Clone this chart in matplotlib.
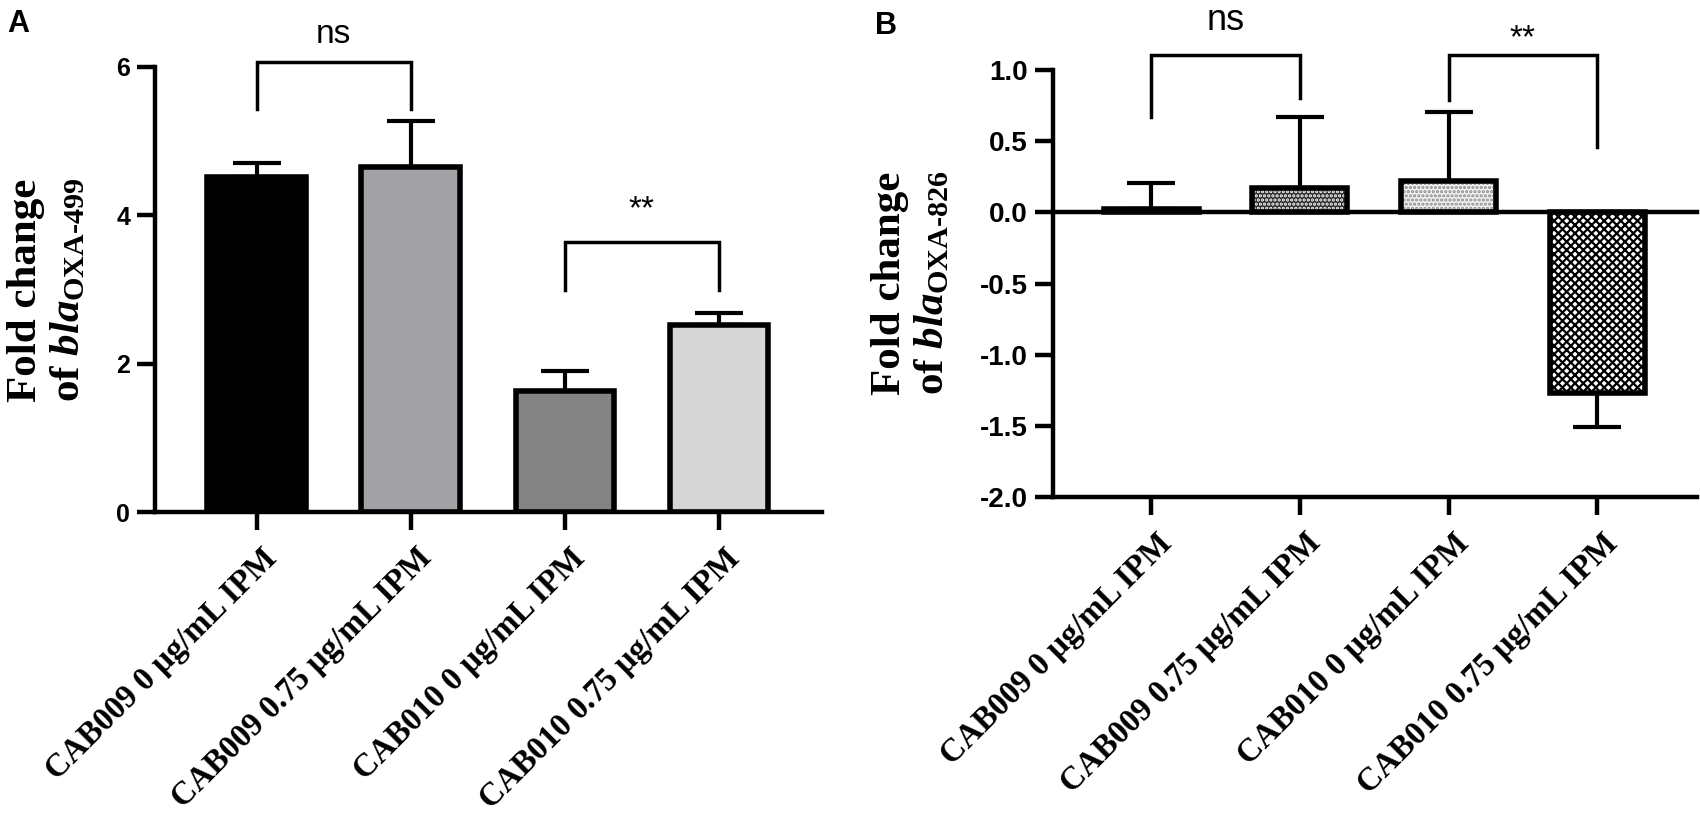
import matplotlib
matplotlib.use("Agg")
import matplotlib.pyplot as plt
import numpy as np

# ---------------- data ----------------
categories = ["CAB009 0 µg/mL IPM", "CAB009 0.75 µg/mL IPM",
              "CAB010 0 µg/mL IPM", "CAB010 0.75 µg/mL IPM"]
fold_a = [4.52, 4.65, 1.63, 2.52]
err_a = [0.19, 0.62, 0.27, 0.17]
fold_b = [0.023, 0.169, 0.22, -1.272]
err_b = [0.185, 0.498, 0.483, 0.239]
sig_labels_a = ["ns", "**"]
sig_labels_b = ["ns", "**"]
yticks_a = [0, 2, 4, 6]
yticks_b = [-2.0, -1.5, -1.0, -0.5, 0.0, 0.5, 1.0]

# ---------------- style ----------------
plt.rcParams['mathtext.fontset'] = 'custom'
plt.rcParams['mathtext.rm'] = 'Liberation Serif:bold'
plt.rcParams['mathtext.it'] = 'Liberation Serif:italic:bold'
plt.rcParams['mathtext.bf'] = 'Liberation Serif:bold'
plt.rcParams['hatch.linewidth'] = 1.6

SANS = 'Liberation Sans'
SERIF = 'Liberation Serif'
LW_SPINE = 3.2
LW_BAR = 4.0
LW_ERR = 3.0
LW_BRK = 2.5
CAT_FS = 23.5
YL_FS = 31

fig = plt.figure(figsize=(17, 8.22), dpi=100)

x = np.arange(len(categories))
W = 0.64


def style_axes(ax, yticks, ylim, ticklabels, tick_fs):
    for s in ['top', 'right']:
        ax.spines[s].set_visible(False)
    for s in ['left', 'bottom']:
        ax.spines[s].set_linewidth(LW_SPINE)
    ax.set_xlim(-0.66, 3.67)
    ax.set_ylim(*ylim)
    ax.set_yticks(yticks)
    ax.set_yticklabels(ticklabels, fontfamily=SANS, fontweight='bold',
                       fontsize=tick_fs)
    ax.set_xticks(x)
    ax.set_xticklabels([])
    ax.tick_params(axis='both', length=13, width=LW_SPINE, pad=5)
    for xi, cat in zip(x, categories):
        ax.annotate(cat, xy=(xi, 0), xycoords=ax.get_xaxis_transform(),
                    xytext=(3.6, -22), textcoords='offset points',
                    rotation=45, ha='right', va='top',
                    rotation_mode='anchor', fontsize=CAT_FS,
                    fontfamily=SERIF, fontweight='bold',
                    annotation_clip=False)


def bracket(ax, x0, x1, top, y0, y1, label, label_y, fs):
    ax.plot([x0, x0, x1, x1], [y0, top, top, y1], color='black',
            lw=LW_BRK, solid_joinstyle='miter', clip_on=False, zorder=5)
    ax.text((x0 + x1) / 2, label_y, label, ha='center', va='baseline',
            fontsize=fs, fontfamily=SANS, clip_on=False)


# ---------------- Panel A ----------------
axA = fig.add_axes([0.0912, 0.3771, 0.3924, 0.5414])
colors_a = ['#000000', '#a2a2a6', '#838383', '#d6d6d6']
axA.errorbar(x, fold_a, yerr=[np.zeros(4), err_a], fmt='none', ecolor='black',
             elinewidth=LW_ERR, capsize=17, capthick=LW_ERR, zorder=1)
axA.bar(x, fold_a, width=W, color=colors_a, edgecolor='black',
        linewidth=LW_BAR, zorder=2)
style_axes(axA, yticks_a, (0, 6), [str(v) for v in yticks_a], 18)
bracket(axA, 0, 1, 6.07, 5.44, 5.44, sig_labels_a[0], 6.32, 24)
bracket(axA, 2, 3, 3.64, 3.0, 3.0, sig_labels_a[1], 3.96, 24)

fig.text(48 / 1700, 1 - 290 / 822,
         "Fold change\nof $\\mathit{bla}_{\\mathrm{OXA\u2010499}}$",
         rotation=90, ha='center', va='center', fontsize=YL_FS,
         fontfamily=SERIF, fontweight='bold', linespacing=1.15,
         multialignment='center')
fig.text(7 / 1700, 1 - 24 / 822, "A", fontsize=22, fontweight='bold',
         fontfamily=SANS, ha='left', va='center')

# ---------------- Panel B ----------------
axB = fig.add_axes([0.6194, 0.3954, 0.3788, 0.5194])
axB.errorbar(x, fold_b,
             yerr=[[e if v < 0 else 0 for v, e in zip(fold_b, err_b)],
                   [e if v >= 0 else 0 for v, e in zip(fold_b, err_b)]],
             fmt='none', ecolor='black', elinewidth=LW_ERR, capsize=17,
             capthick=LW_ERR, zorder=1)
faces_b = ['#000000', '#2a2a2a', '#f4f4f4', '#ffffff']
hatch_col_b = ['#000000', '#ffffff', '#8a8a8a', '#000000']
hatches_b = [None, '....', '....', 'xxxx']
for xi, v, fc, hc, h in zip(x, fold_b, faces_b, hatch_col_b, hatches_b):
    axB.bar(xi, v, width=W, color=fc, edgecolor=hc, hatch=h, linewidth=0,
            zorder=2)
axB.bar(x, fold_b, width=W, fill=False, edgecolor='black',
        linewidth=LW_BAR, zorder=3)
axB.axhline(0, color='black', lw=LW_SPINE, zorder=4, clip_on=False)
style_axes(axB, yticks_b, (-2.0, 1.0), [f"{v:.1f}" for v in yticks_b], 20)
bracket(axB, 0, 1, 1.105, 0.67, 0.80, sig_labels_b[0], 1.28, 26)
bracket(axB, 2, 3, 1.105, 0.79, 0.46, sig_labels_b[1], 1.16, 24)

fig.text(912 / 1700, 1 - 283 / 822,
         "Fold change\nof $\\mathit{bla}_{\\mathrm{OXA\u2010826}}$",
         rotation=90, ha='center', va='center', fontsize=YL_FS,
         fontfamily=SERIF, fontweight='bold', linespacing=1.15,
         multialignment='center')
fig.text(875 / 1700, 1 - 26 / 822, "B", fontsize=22, fontweight='bold',
         fontfamily=SANS, ha='left', va='center')

fig.savefig("out.png", dpi=100)
